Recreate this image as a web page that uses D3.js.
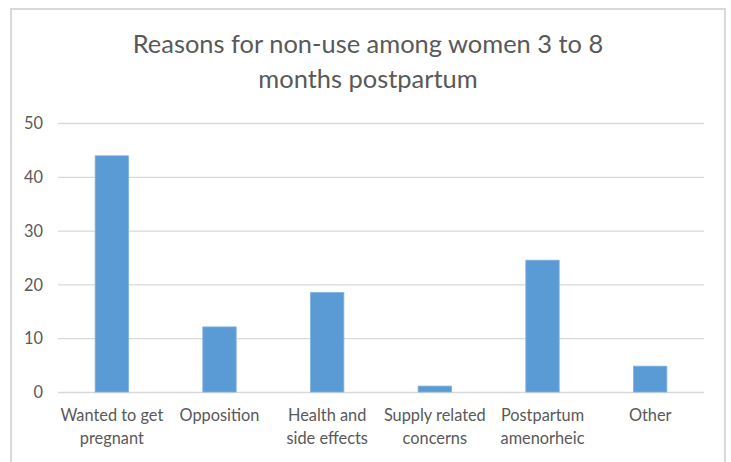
<!DOCTYPE html>
<html>
<head>
<meta charset="utf-8">
<script src="https://cdn.jsdelivr.net/npm/d3@7"></script>
<style>
  html, body { margin: 0; padding: 0; background: #fff; }
  svg { display: block; }
</style>
</head>
<body>
<svg id="chart" width="731" height="462"></svg>
<script>
// данные диаграммы
const titleLines = ["Reasons for non-use among women 3 to 8", "months postpartum"]
const categories = ["Wanted to get pregnant", "Opposition", "Health and side effects",
                    "Supply related concerns", "Postpartum amenorheic", "Other"]
const labelLines = [["Wanted to get", "pregnant"], ["Opposition"], ["Health and", "side effects"],
                    ["Supply related", "concerns"], ["Postpartum", "amenorheic"], ["Other"]]
const values = [43.9, 12.1, 18.5, 1.1, 24.5, 4.8]
const yTicks = [0, 10, 20, 30, 40, 50]

const fontFamily = "Lato, 'Open Sans', sans-serif"
const textColor = "#595959"
const gridColor = "#d9d9d9"
const barColor = "#5b9bd5"

let svg = d3.select("#chart")

// подбор размера шрифта под ширину текста оригинала
function fitSize(text, targetWidth) {
    let t = svg.append("text").attr("font-family", fontFamily).attr("font-size", 20).text(text)
    let w = t.node().getComputedTextLength()
    t.remove()
    return 20 * targetWidth / w
}

const titleSize = fitSize(titleLines[0], 471)
const labelSize = fitSize("Wanted to get", 103)

// рамка
svg.append("rect")
    .attr("x", 11).attr("y", 9)
    .attr("width", 714).attr("height", 470)
    .attr("fill", "none")
    .attr("stroke", gridColor)
    .attr("stroke-width", 2)

// заголовок
svg.append("g")
    .selectAll("text")
    .data(titleLines)
    .enter()
    .append("text")
    .attr("x", 368)
    .attr("y", (d, i) => 53 + i * 35)
    .attr("text-anchor", "middle")
    .attr("font-family", fontFamily)
    .attr("font-size", titleSize)
    .attr("fill", textColor)
    .text(d => d)

const area = { left: 58, right: 704, top: 123, bottom: 392 }

let scaleX = d3.scaleBand()
    .domain(categories)
    .range([area.left, area.right])
    .paddingInner(0.69)
    .paddingOuter(0.345)

let scaleY = d3.scaleLinear()
    .domain([0, 50])
    .range([area.bottom, area.top])

// сетка
let axisY = d3.axisLeft(scaleY)
    .tickValues(yTicks)
    .tickSize(-(area.right - area.left))
    .tickPadding(15)

let gy = svg.append("g")
    .attr("transform", `translate(${area.left}, 0)`)
    .call(axisY)
gy.select(".domain").remove()
gy.selectAll("line").attr("stroke", gridColor).attr("stroke-width", 1.3)
gy.selectAll("text")
    .attr("font-family", fontFamily)
    .attr("font-size", labelSize)
    .attr("fill", textColor)
    .attr("dy", "0.35em")

// столбцы
svg.selectAll(".bar")
    .data(values)
    .enter()
    .append("rect")
    .attr("class", "bar")
    .attr("x", (d, i) => scaleX(categories[i]))
    .attr("y", d => scaleY(d))
    .attr("width", scaleX.bandwidth())
    .attr("height", d => scaleY(0) - scaleY(d))
    .attr("fill", barColor)
    .attr("stroke", "#7fb1de")
    .attr("stroke-width", 0.8)

// подписи категорий
let labels = svg.append("g")
    .selectAll("text")
    .data(categories)
    .enter()
    .append("text")
    .attr("x", d => scaleX(d) + scaleX.bandwidth() / 2)
    .attr("y", 421)
    .attr("text-anchor", "middle")
    .attr("font-family", fontFamily)
    .attr("font-size", labelSize)
    .attr("fill", textColor)

labels.selectAll("tspan")
    .data((d, i) => labelLines[i])
    .enter()
    .append("tspan")
    .attr("x", function () { return d3.select(this.parentNode).attr("x") })
    .attr("dy", (d, i) => i == 0 ? 0 : 23)
    .text(d => d)
</script>
</body>
</html>
